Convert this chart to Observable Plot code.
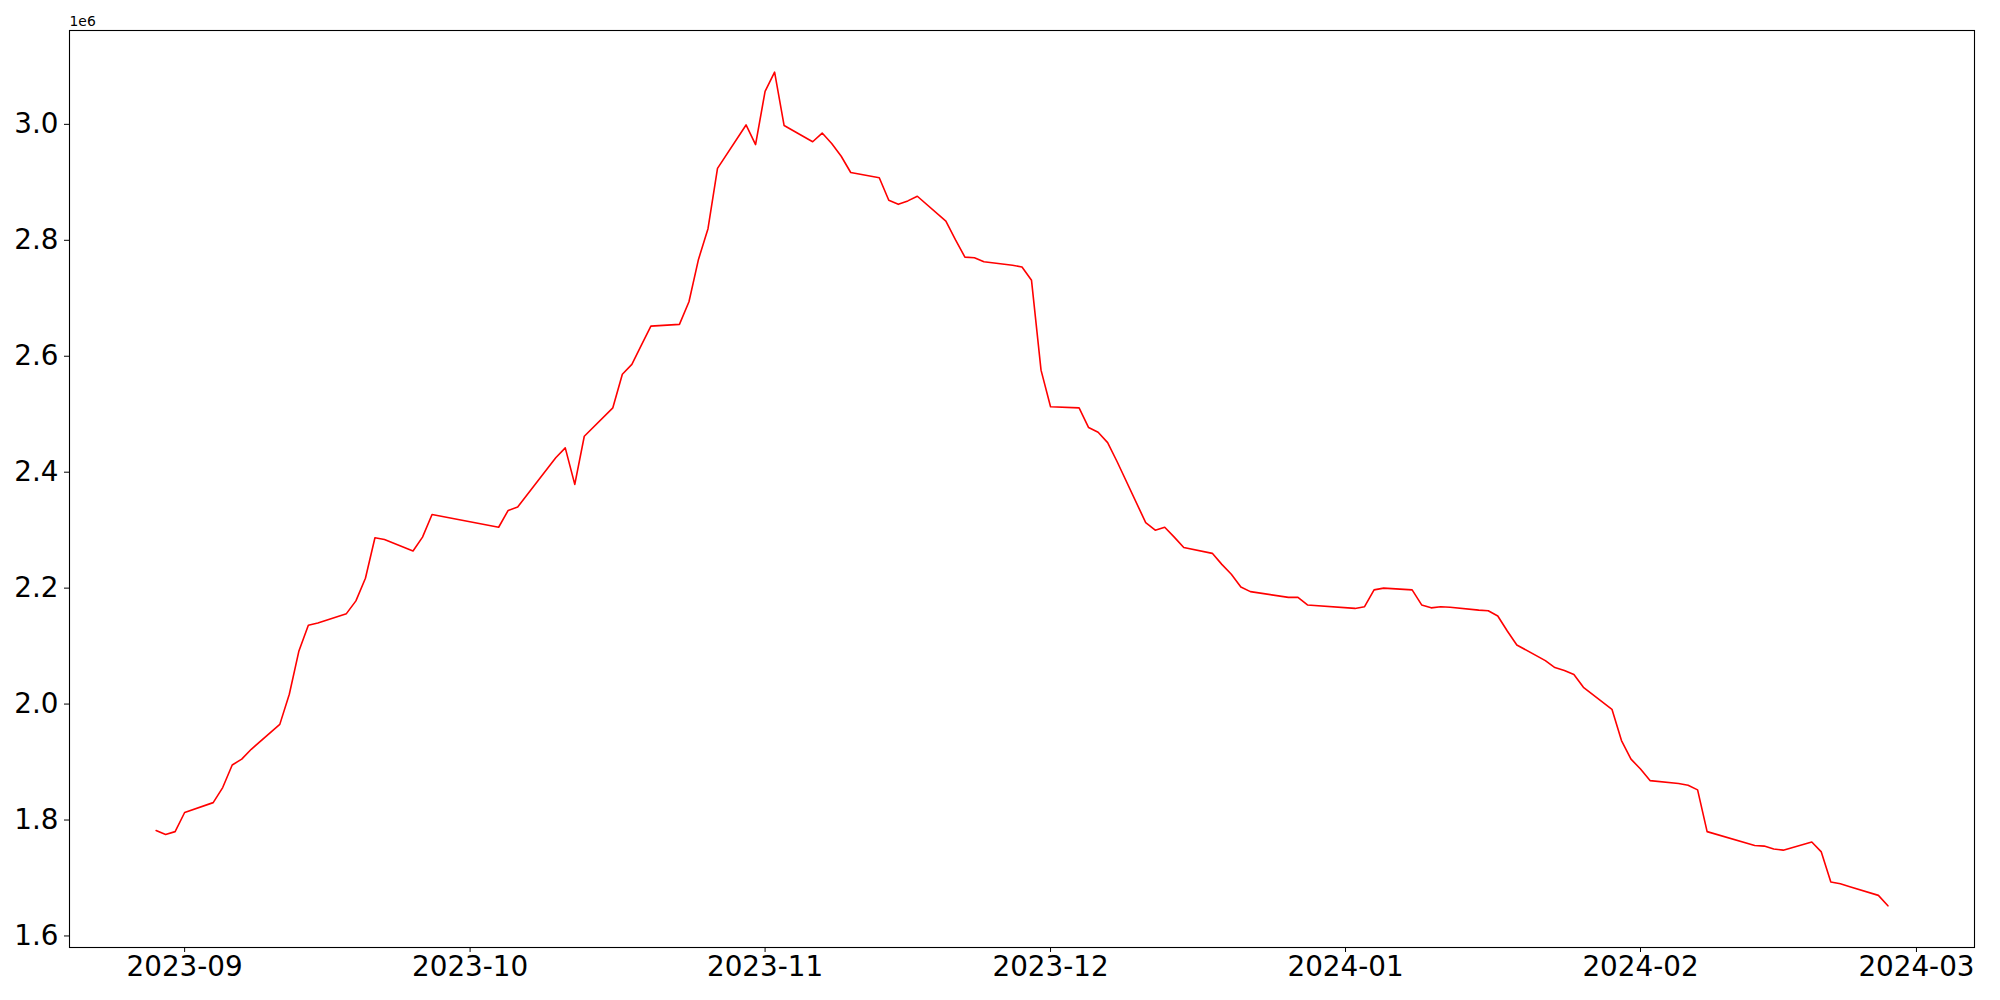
<!DOCTYPE html>
<html>
<head>
<meta charset="utf-8">
<script src="https://cdn.jsdelivr.net/npm/d3@7"></script>
<script src="https://cdn.jsdelivr.net/npm/@observablehq/plot@0.6"></script>
<style>
  html, body { margin: 0; padding: 0; background: #fff; }
  svg { display: block; }
</style>
</head>
<body>
<div id="chart"></div>
<script>
const dates = [
  "2023-08-29","2023-08-30","2023-08-31","2023-09-01",
  "2023-09-04","2023-09-05","2023-09-06","2023-09-07","2023-09-08",
  "2023-09-11","2023-09-12","2023-09-13","2023-09-14","2023-09-15",
  "2023-09-18","2023-09-19","2023-09-20","2023-09-21","2023-09-22",
  "2023-09-25","2023-09-26","2023-09-27",
  "2023-10-04","2023-10-05","2023-10-06",
  "2023-10-10","2023-10-11","2023-10-12","2023-10-13",
  "2023-10-16","2023-10-17","2023-10-18","2023-10-19","2023-10-20",
  "2023-10-23","2023-10-24","2023-10-25","2023-10-26","2023-10-27",
  "2023-10-30","2023-10-31","2023-11-01","2023-11-02","2023-11-03",
  "2023-11-06","2023-11-07","2023-11-08","2023-11-09","2023-11-10",
  "2023-11-13","2023-11-14","2023-11-15","2023-11-16","2023-11-17",
  "2023-11-20","2023-11-21","2023-11-22","2023-11-23","2023-11-24",
  "2023-11-27","2023-11-28","2023-11-29","2023-11-30","2023-12-01",
  "2023-12-04","2023-12-05","2023-12-06","2023-12-07","2023-12-08",
  "2023-12-11","2023-12-12","2023-12-13","2023-12-14","2023-12-15",
  "2023-12-18","2023-12-19","2023-12-20","2023-12-21","2023-12-22",
  "2023-12-26","2023-12-27","2023-12-28",
  "2024-01-02","2024-01-03","2024-01-04","2024-01-05",
  "2024-01-08","2024-01-09","2024-01-10","2024-01-11","2024-01-12",
  "2024-01-15","2024-01-16","2024-01-17","2024-01-18","2024-01-19",
  "2024-01-22","2024-01-23","2024-01-24","2024-01-25","2024-01-26",
  "2024-01-29","2024-01-30","2024-01-31","2024-02-01","2024-02-02",
  "2024-02-05","2024-02-06","2024-02-07","2024-02-08",
  "2024-02-13","2024-02-14","2024-02-15","2024-02-16",
  "2024-02-19","2024-02-20","2024-02-21","2024-02-22","2024-02-23",
  "2024-02-26","2024-02-27"
];
const values = [
  1782000,1775000,1780000,1813000,
  1830000,1856000,1895000,1905000,1922000,
  1965000,2017000,2091000,2136000,2140000,
  2156000,2178000,2217000,2287000,2284000,
  2264000,2288000,2327000,
  2305000,2334000,2340000,
  2425000,2442000,2379000,2462000,
  2511000,2569000,2586000,2619000,2652000,
  2655000,2694000,2767000,2820000,2924000,
  2999000,2965000,3057000,3090000,2998000,
  2970000,2985000,2967000,2945000,2917000,
  2908000,2869000,2862000,2868000,2876000,
  2833000,2801000,2771000,2770000,2763000,
  2757000,2754000,2731000,2576000,2513000,
  2511000,2477000,2469000,2451000,2418000,
  2313000,2300000,2305000,2288000,2270000,
  2260000,2241000,2224000,2202000,2194000,
  2184000,2184000,2171000,
  2165000,2168000,2197000,2200000,
  2197000,2171000,2166000,2168000,2167000,
  2162000,2161000,2152000,2126000,2102000,
  2075000,2063000,2058000,2051000,2029000,
  1991000,1937000,1905000,1888000,1868000,
  1863000,1860000,1852000,1780000,
  1756000,1755000,1750000,1748000,
  1762000,1745000,1693000,1690000,1685000,
  1670000,1652000
];
const xTickLabels = ["2023-09","2023-10","2023-11","2023-12","2024-01","2024-02","2024-03"];
const yTickValues = [1600000,1800000,2000000,2200000,2400000,2600000,2800000,3000000];
const offsetLabel = "1e6";

const data = dates.map((d, i) => ({date: new Date(d), value: values[i]}));

// matplotlib-style 5% margins
const [x0, x1] = d3.extent(data, d => +d.date);
const xm = (x1 - x0) * 0.05;
const [y0, y1] = d3.extent(data, d => d.value);
const ym = (y1 - y0) * 0.05;

const FONT = "DejaVu Sans";
const chart = Plot.plot({
  width: 2000,
  height: 1000,
  marginLeft: 69,
  marginRight: 26,
  marginTop: 30,
  marginBottom: 53,
  style: {fontFamily: FONT, background: "#fff", color: "#000"},
  x: {type: "utc", domain: [new Date(x0 - xm), new Date(x1 + xm)], label: null},
  y: {domain: [y0 - ym, y1 + ym], label: null},
  marks: [
    Plot.line(data, {x: "date", y: "value", stroke: "red", strokeWidth: 1.6}),
    Plot.axisX({
      ticks: xTickLabels.map(s => new Date(s + "-01")),
      tickFormat: d3.utcFormat("%Y-%m"),
      tickSize: 5, tickPadding: 4, fontSize: 27.8, stroke: "#000", fill: "#000", label: null
    }),
    Plot.axisY({
      ticks: yTickValues,
      tickFormat: d => (d / 1e6).toFixed(1),
      tickSize: 5, tickPadding: 6, fontSize: 27.8, stroke: "#000", fill: "#000", label: null
    }),
    Plot.frame({stroke: "#000", strokeWidth: 1.1}),
    Plot.text([offsetLabel], {
      frameAnchor: "top-left", text: d => d, dy: -5, dx: 0,
      textAnchor: "start", lineAnchor: "bottom", fontSize: 13.9, fill: "#000"
    })
  ]
});
document.getElementById("chart").appendChild(chart);
</script>
</body>
</html>
